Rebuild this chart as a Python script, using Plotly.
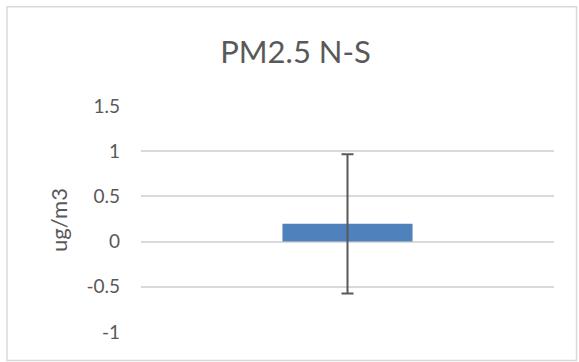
import plotly.graph_objects as go

categories = ["N-S"]
values = [0.197]
errors = [0.77]
tick_vals = [-1, -0.5, 0, 0.5, 1, 1.5]
tick_text = ["-1", "-0.5", "0", "0.5", "1", "1.5"]

W, H = 579, 362
L, R, T, B = 141, 554, 106, 332

fig = go.Figure()
fig.add_trace(go.Bar(
    x=categories, y=values, width=0.315,
    marker=dict(color="#4f81bd", line=dict(width=0)),
    error_y=dict(type="data", array=errors, visible=True,
                 color="#595959", thickness=2, width=6),
))

def px_x(p):
    return (p - L) / (R - L)

def px_y(p):
    return (B - p) / (B - T)

fig.update_layout(
    width=W, height=H,
    margin=dict(l=L, r=W - R, t=T, b=H - B),
    paper_bgcolor="white", plot_bgcolor="white",
    showlegend=False,
    font=dict(family="Lato", color="#595959"),
    title=dict(text="PM2.5 N-S", x=295.5 / W, xanchor="center",
               y=1 - 52.5 / H, yanchor="middle",
               font=dict(size=31, color="#595959", family="Lato")),
    xaxis=dict(showticklabels=False, showgrid=False, zeroline=False,
               showline=False, range=[-0.5, 0.5]),
    yaxis=dict(range=[-1, 1.5], tickvals=tick_vals, ticktext=tick_text,
               showgrid=True, gridcolor="#d9d9d9", gridwidth=1.5,
               zeroline=False, showline=False, ticks="",
               ticklabelstandoff=20,
               tickfont=dict(size=19, color="#595959", family="Lato")),
    shapes=[dict(type="rect", xref="paper", yref="paper",
                 x0=px_x(7), x1=px_x(576.5), y0=px_y(360.5), y1=px_y(6.8),
                 line=dict(color="#d9d9d9", width=1.5), layer="below")],
    annotations=[dict(text="ug/m3", xref="paper", yref="paper",
                      x=px_x(58), y=px_y(220), xanchor="center", yanchor="middle",
                      textangle=-90, showarrow=False,
                      font=dict(size=22, color="#595959", family="Lato"))],
)

fig.write_html("out.html", config={"displayModeBar": False},
               post_script="document.body.style.margin='0';document.body.style.overflow='hidden';")
